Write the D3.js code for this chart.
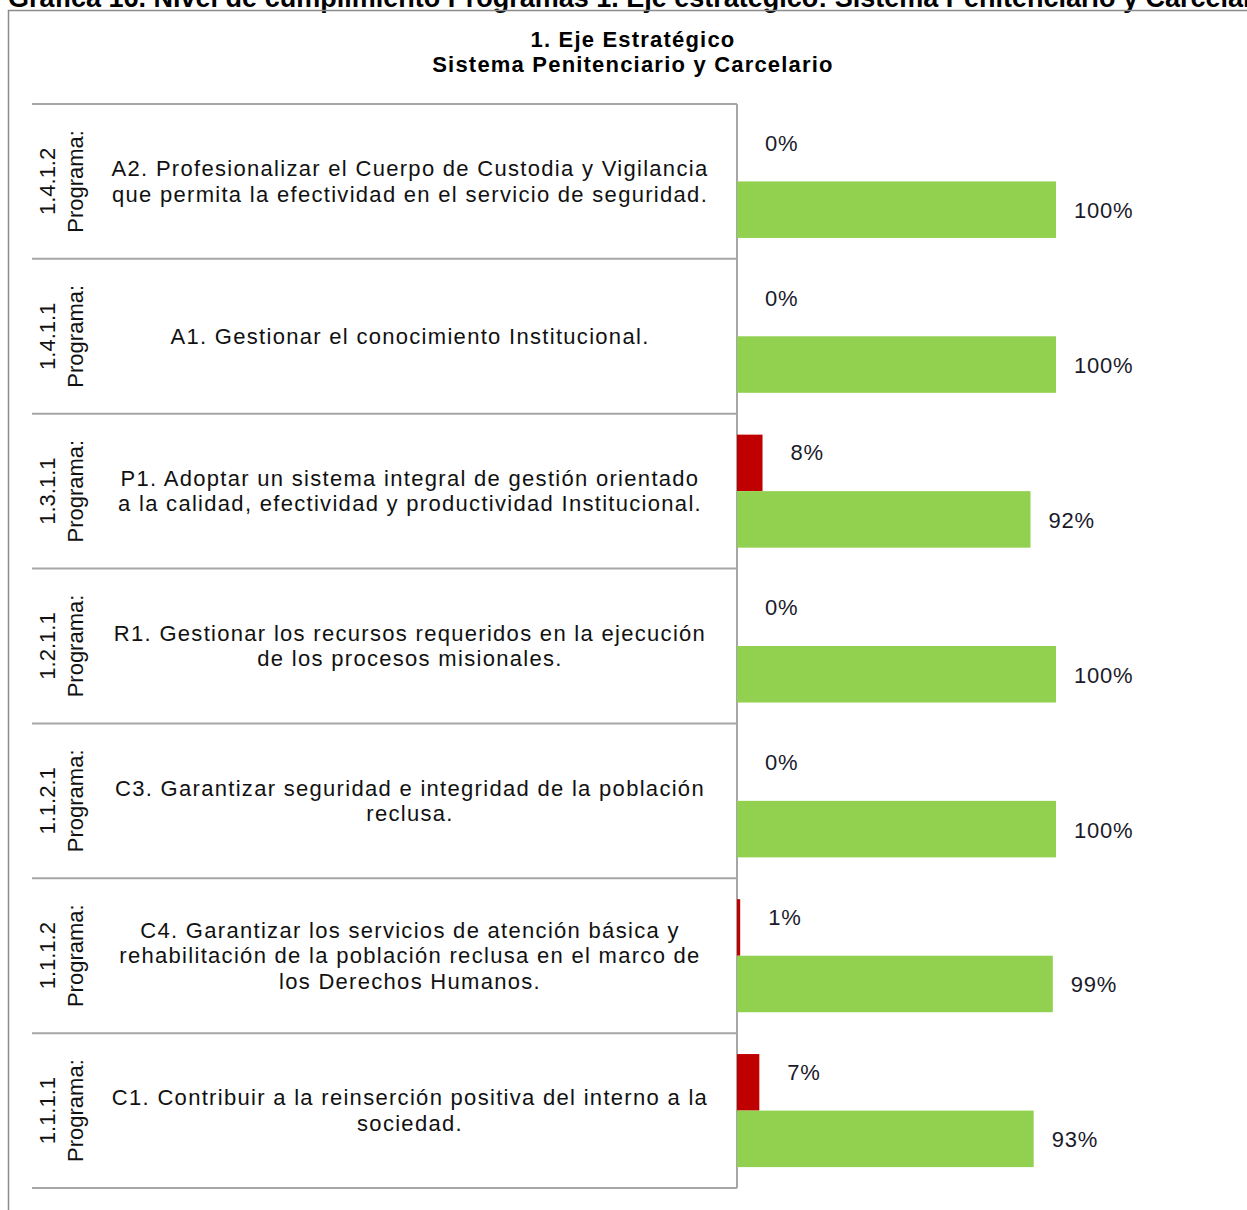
<!DOCTYPE html>
<html>
<head>
<meta charset="utf-8">
<script src="https://cdn.jsdelivr.net/npm/d3@7"></script>
<style>
  body { margin: 0; background: #fff; }
  svg { display: block; font-family: "Liberation Sans", Arial, sans-serif; }
</style>
</head>
<body>
<div class="vis-cumplimiento"></div>
<script>
// datos (de arriba hacia abajo)
const codigos = ["1.4.1.2", "1.4.1.1", "1.3.1.1", "1.2.1.1", "1.1.2.1", "1.1.1.2", "1.1.1.1"]
const descripciones = [
    "A2. Profesionalizar el Cuerpo de Custodia y Vigilancia\nque permita la efectividad en el servicio de seguridad.",
    "A1. Gestionar el conocimiento Institucional.",
    "P1. Adoptar un sistema integral de gestión orientado\na la calidad, efectividad y productividad Institucional.",
    "R1. Gestionar los recursos requeridos en la ejecución\nde los procesos misionales.",
    "C3. Garantizar seguridad e integridad de la población\nreclusa.",
    "C4. Garantizar los servicios de atención básica y\nrehabilitación de la población reclusa en el marco de\nlos Derechos Humanos.",
    "C1. Contribuir a la reinserción positiva del interno a la\nsociedad."
]
const noCumplido = [0, 0, 0.08, 0, 0, 0.01, 0.07]
const cumplido = [1, 1, 0.92, 1, 1, 0.99, 0.93]
const series = ["noCumplido", "cumplido"]

const encabezado = "Gráfica 16. Nivel de cumplimiento Programas 1. Eje estratégico: Sistema Penitenciario y Carcelario"
const titulo = ["1. Eje Estratégico", "Sistema Penitenciario y Carcelario"]

var data = codigos.map((c, i) => ({
    codigo: c,
    texto: descripciones[i],
    valores: {noCumplido: noCumplido[i], cumplido: cumplido[i]}
}))

var width = 1247
var height = 1210
var tabla = ({left: 32, right: 737, top: 104, bottom: 1188})
var color = d3.scaleOrdinal().domain(series).range(["#C00000", "#92D050"])
var lineColor = "#a6a6a6"
var fontSize = 22

const x = d3.scaleLinear()
    .domain([0, 1])
    .range([tabla.right, 1056])

const y = d3.scaleBand()
    .domain(codigos)
    .range([tabla.top, tabla.bottom])

const ys = d3.scaleBand()
    .domain(series)
    .range([0, y.bandwidth()])
    .paddingOuter(0.37)

const fmt = d3.format(".0%")

const svg = d3.select('.vis-cumplimiento')
    .append('svg')
    .attr("width", width)
    .attr("height", height)
    .attr("viewBox", [0, 0, width, height])

// encabezado cortado arriba
svg.append("text")
    .attr("x", 8)
    .attr("y", 7)
    .style("font-weight", "bold")
    .style("font-size", "27px")
    .attr("fill", "#000")
    .text(encabezado)

// marco del grafico
svg.append("path")
    .attr("fill", "none")
    .attr("stroke", "#8c8c8c")
    .attr("stroke-width", 1.5)
    .attr("d", d3.line()([[8.5, height + 5], [8.5, 10.5], [width + 5, 10.5]]))

svg.append("g")
    .selectAll("text")
    .data(titulo)
    .join("text")
    .attr("x", 633)
    .attr("y", (d, i) => 39 + i * 25)
    .attr("text-anchor", "middle")
    .attr("dominant-baseline", "central")
    .style("font-weight", "bold")
    .style("font-size", fontSize + "px")
    .style("letter-spacing", "1.2px")
    .attr("fill", "#000")
    .text(d => d)

// lineas de la tabla
const lineas = svg.append("g")
    .attr("stroke", lineColor)
    .attr("stroke-width", 2)

lineas.selectAll("path")
    .data(codigos.concat(["fin"]))
    .join("path")
    .attr("d", (d, i) => {
        const yy = i < codigos.length ? y(d) : tabla.bottom
        return d3.line()([[tabla.left, yy], [tabla.right, yy]])
    })

lineas.append("path")
    .attr("d", d3.line()([[tabla.right, tabla.top], [tabla.right, tabla.bottom]]))

const filas = svg.selectAll(".fila")
    .data(data)
    .join("g")
    .attr("class", "fila")
    .attr("transform", d => `translate(0,${y(d.codigo)})`)

// etiquetas giradas
filas.append("text")
    .attr("transform", `translate(61,${y.bandwidth() / 2}) rotate(-90)`)
    .attr("text-anchor", "middle")
    .style("font-size", fontSize + "px")
    .attr("fill", "#111")
    .selectAll("tspan")
    .data(d => [d.codigo, "Programa:"])
    .join("tspan")
    .attr("x", 0)
    .attr("y", (d, i) => (i - 0.5) * 28)
    .attr("dominant-baseline", "central")
    .text(d => d)

// descripciones
filas.append("text")
    .attr("text-anchor", "middle")
    .style("font-size", fontSize + "px")
    .style("letter-spacing", "1.3px")
    .attr("fill", "#111")
    .selectAll("tspan")
    .data(d => {
        const l = d.texto.split("\n")
        return l.map((t, i) => ({t: t, off: i - (l.length - 1) / 2}))
    })
    .join("tspan")
    .attr("x", 410)
    .attr("y", d => y.bandwidth() / 2 + d.off * 25.5)
    .attr("dominant-baseline", "central")
    .text(d => d.t)

// barras
filas.selectAll("rect")
    .data(d => series.map(s => ({serie: s, valor: d.valores[s]})))
    .join("rect")
    .attr("x", x(0))
    .attr("y", d => ys(d.serie))
    .attr("width", d => x(d.valor) - x(0))
    .attr("height", ys.bandwidth())
    .attr("fill", d => color(d.serie))

filas.selectAll(".valor")
    .data(d => series.map(s => ({serie: s, valor: d.valores[s]})))
    .join("text")
    .attr("class", "valor")
    .attr("x", d => x(d.valor) + (d.serie === "cumplido" ? 18 : 28))
    .attr("y", d => ys(d.serie) + ys.bandwidth() / 2 + (d.serie === "cumplido" ? 1 : -10))
    .attr("dominant-baseline", "central")
    .style("font-size", fontSize + "px")
    .style("letter-spacing", "0.8px")
    .attr("fill", "#1a1a2a")
    .text(d => fmt(d.valor))
</script>
</body>
</html>
